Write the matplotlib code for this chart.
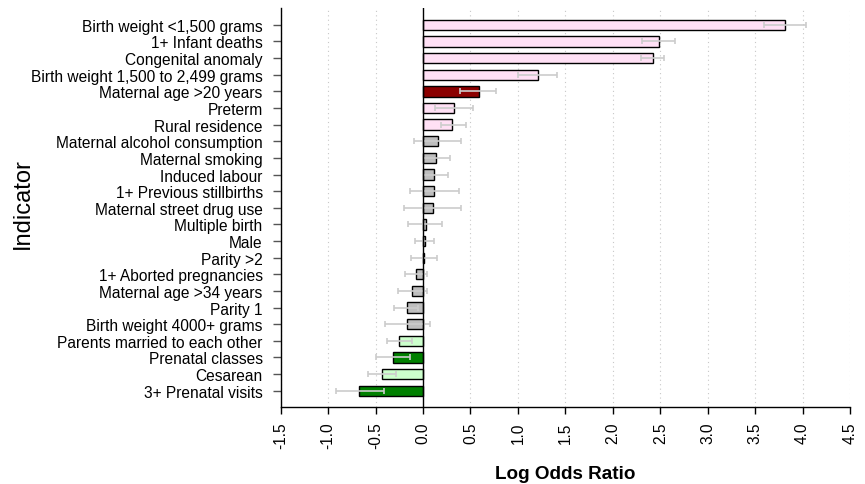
import numpy as np
from matplotlib import pyplot as plt

# indicators listed top to bottom
indicators = [
    "Birth weight <1,500 grams", "1+ Infant deaths", "Congenital anomaly",
    "Birth weight 1,500 to 2,499 grams", "Maternal age >20 years", "Preterm",
    "Rural residence", "Maternal alcohol consumption", "Maternal smoking",
    "Induced labour", "1+ Previous stillbirths", "Maternal street drug use",
    "Multiple birth", "Male", "Parity >2", "1+ Aborted pregnancies",
    "Maternal age >34 years", "Parity 1", "Birth weight 4000+ grams",
    "Parents married to each other", "Prenatal classes", "Cesarean",
    "3+ Prenatal visits",
]

log_odds = [3.81, 2.49, 2.42, 1.21, 0.59, 0.33, 0.31, 0.155, 0.135, 0.12,
            0.115, 0.105, 0.032, 0.021, 0.011, -0.074, -0.12, -0.169, -0.169,
            -0.254, -0.317, -0.437, -0.676]
ci_low = [3.59, 2.31, 2.30, 1.00, 0.39, 0.13, 0.19, -0.10, 0.0, 0.0,
          -0.14, -0.20, -0.155, -0.085, -0.13, -0.19, -0.264, -0.306, -0.40,
          -0.377, -0.50, -0.58, -0.915]
ci_high = [4.04, 2.66, 2.54, 1.41, 0.77, 0.53, 0.45, 0.40, 0.28, 0.26,
           0.38, 0.40, 0.204, 0.116, 0.144, 0.046, 0.039, -0.05, 0.077,
           -0.116, -0.137, -0.285, -0.412]
groups = ["risk", "risk", "risk", "risk", "strong_risk", "risk", "risk",
          "none", "none", "none", "none", "none", "none", "none", "none",
          "none", "none", "none", "none", "protect", "strong_protect",
          "protect", "strong_protect"]

group_colors = {"risk": "#ffe0f5", "strong_risk": "#8b0000", "none": "#bebebe",
                "protect": "#ccffcc", "strong_protect": "#008000"}

xticks = np.arange(-1.5, 4.51, 0.5)

plt.rcParams['font.family'] = ['Liberation Sans', 'DejaVu Sans']

fig = plt.figure(figsize=(8.65, 4.85), dpi=100)
ax = fig.add_axes([0.3245, 0.158, 0.6582, 0.823])

n = len(indicators)
ypos = np.arange(n)
colors = [group_colors[g] for g in groups]

# dotted vertical grid, solid line at zero
for x in xticks:
    if abs(x) > 1e-9:
        ax.axvline(x, color="#c8c8c8", linestyle=(0, (1, 3)), linewidth=0.8, zorder=0)

ax.barh(ypos, log_odds, height=0.62, color=colors, edgecolor="black",
        linewidth=1.0, zorder=2)
vals = np.array(log_odds)
err = [vals - np.array(ci_low), np.array(ci_high) - vals]
ax.errorbar(vals, ypos, xerr=err, fmt="none", ecolor="#cccccc",
            elinewidth=1.2, capsize=2.4, capthick=1.2, zorder=3)
ax.axvline(0, color="black", linewidth=1.0, zorder=4)

ax.set_ylim(n, -1)
ax.set_xlim(-1.5, 4.5)
ax.set_yticks(ypos)
ax.set_yticklabels(indicators, fontsize=11.2)
ax.set_xticks(xticks)
ax.set_xticklabels(["%.1f" % x for x in xticks], rotation=90, fontsize=11.2)
ax.tick_params(axis="y", length=6, width=1, color="#555555", pad=7)
ax.tick_params(axis="x", length=5, width=1, pad=5)

for side in ["top", "right"]:
    ax.spines[side].set_visible(False)
ax.spines["left"].set_linewidth(1.0)
ax.spines["bottom"].set_linewidth(1.0)

ax.set_xlabel("Log Odds Ratio", fontsize=13.6, fontweight="bold", labelpad=12)
fig.text(0.027, 0.581, "Indicator", rotation=90, fontsize=17,
         ha="center", va="center")

fig.savefig("out.png", dpi=100)
